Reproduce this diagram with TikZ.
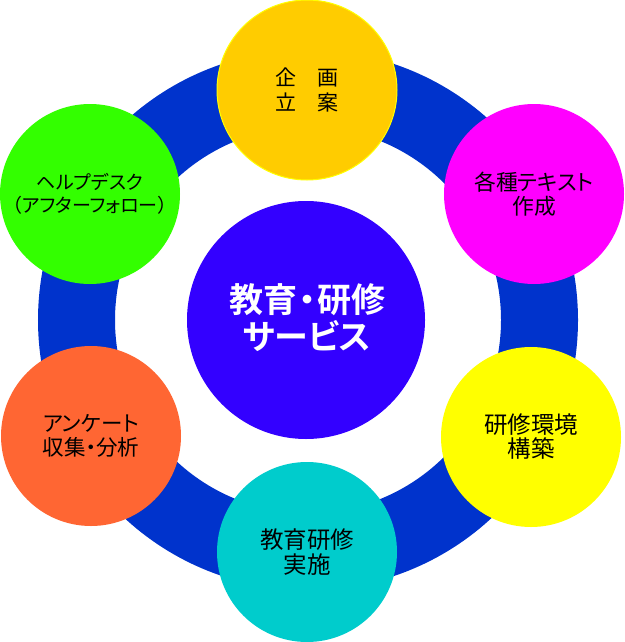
\documentclass[tikz,border=0pt]{standalone}
\usepackage{fontspec}
\newfontfamily\jp[RawFeature=+palt]{Noto Sans CJK JP}
\newfontfamily\jpb[RawFeature=+palt]{Noto Sans CJK JP Bold}
\definecolor{ringblue}{HTML}{0033CC}
\definecolor{coreblue}{HTML}{3300FF}
\definecolor{c1}{HTML}{FFCC00}
\definecolor{c2}{HTML}{FF00FF}
\definecolor{c3}{HTML}{FFFF00}
\definecolor{c4}{HTML}{00CCCC}
\definecolor{c5}{HTML}{FF6633}
\definecolor{c6}{HTML}{33FF00}
\begin{document}
\begin{tikzpicture}[x=1pt,y=-1pt,
  sat/.style={circle, inner sep=0pt, minimum size=180pt, align=center,
    font=\jp\fontsize{21.5}{24}\selectfont, text=black}]
\useasboundingbox (0,0) rectangle (624,642);
\node[circle, draw=ringblue, line width=77pt, minimum size=463pt, inner sep=0pt] (ring) at (308,320) {};
\node[circle, fill=coreblue, minimum size=238pt, inner sep=0pt] (core) at (306,320) {};
\node[text=white, align=center, font=\jpb\fontsize{34}{37}\selectfont] (coretext) at (307,318)
  {教育\kern1.5pt・\kern1.5pt研修\\サービス};
\node[sat, fill=c1, draw=c3, line width=1pt, font=\jp\fontsize{21}{25}\selectfont] (plan) at (307,90) {企　画\\立　案};
\node[sat, fill=c2, font=\jp\fontsize{21.8}{24}\selectfont] (text) at (534,194) {各種テキスト\\作成};
\node[sat, fill=c3, font=\jp\fontsize{23.5}{24}\selectfont] (env) at (531,437) {研修環境\\構築};
\node[sat, fill=c4, font=\jp\fontsize{23.5}{25}\selectfont] (run) at (307,552) {教育研修\\実施};
\node[sat, fill=c5] (survey) at (91,436) {アンケート\\収集・分析};
\node[sat, fill=c6, font=\jp\fontsize{19}{23}\selectfont] (help) at (90,194) {ヘルプデスク\\（アフターフォロー）};
\end{tikzpicture}
\end{document}
